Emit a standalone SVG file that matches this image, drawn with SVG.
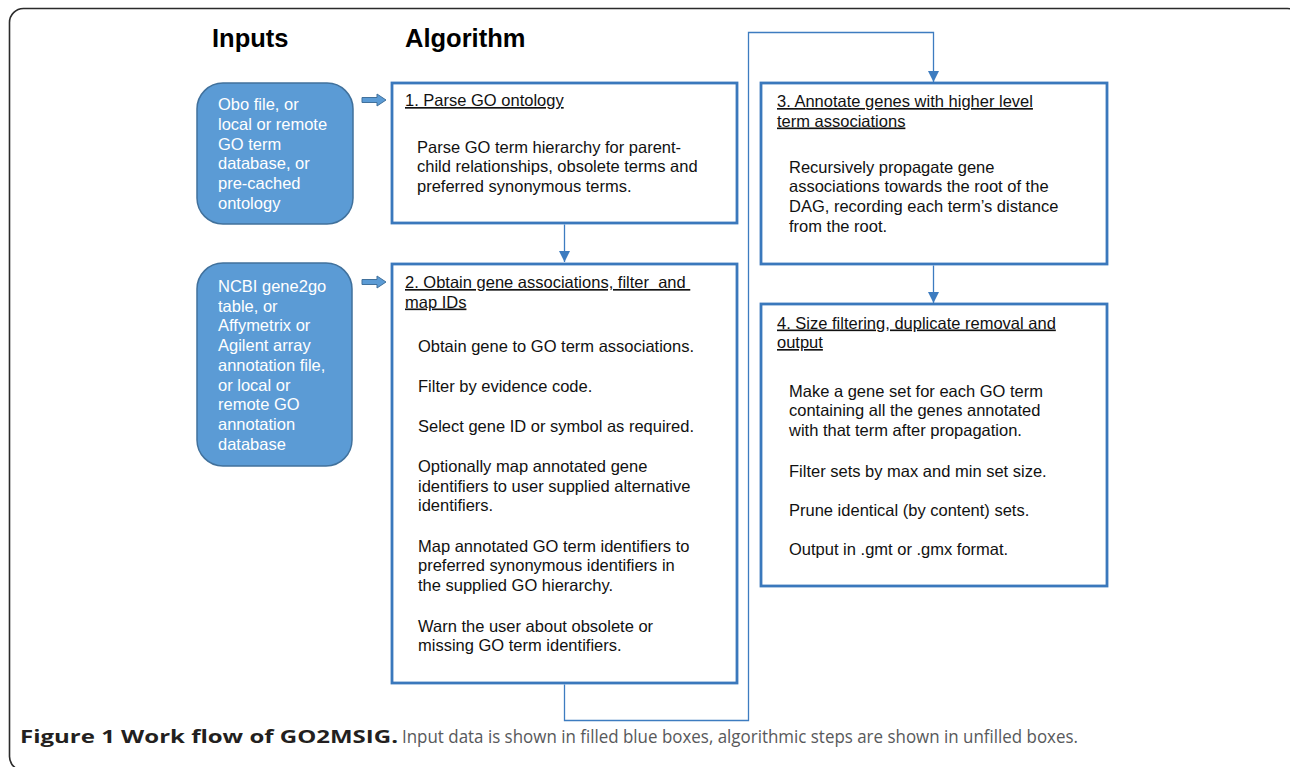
<svg xmlns="http://www.w3.org/2000/svg" width="1290" height="767" viewBox="0 0 1290 767">
<defs>
<style>
.frame{fill:none;stroke:#2b2b2b;stroke-width:1.6}
.input{fill:#5b9bd5;stroke:#41719c;stroke-width:1.5}
.itext{font-family:"Liberation Sans",Arial,sans-serif;font-size:16.5px;fill:#ffffff}
.step{fill:#ffffff;stroke:#3a78bc;stroke-width:2.8}
.title{font-family:"Liberation Sans",Arial,sans-serif;font-size:16.5px;fill:#111111;text-decoration:underline}
.body{font-family:"Liberation Sans",Arial,sans-serif;font-size:16.5px;fill:#111111}
.head{font-family:"Liberation Sans",Arial,sans-serif;font-size:25.5px;font-weight:bold;fill:#000000}
.conn{fill:none;stroke:#3d7cc0;stroke-width:1.3}
.blk{fill:#5b9bd5;stroke:#41719c;stroke-width:1}
.cap{font-family:"Open Sans","Noto Sans",sans-serif;font-size:18px}
</style>
<marker id="ah" viewBox="0 0 10 10" refX="10" refY="5" markerWidth="11" markerHeight="11" markerUnits="userSpaceOnUse" orient="auto">
<path d="M0,0 L10,5 L0,10 z" fill="#3d7cc0"/>
</marker>
</defs>

<rect class="frame" x="9.5" y="8.5" width="1292" height="762" rx="14"/>

<text class="head" x="212" y="47">Inputs</text>
<text class="head" x="405" y="47">Algorithm</text>

<g id="input1">
<rect class="input" x="197" y="83" width="156" height="141" rx="26"/>
<text class="itext" x="218" y="110">Obo file, or</text>
<text class="itext" x="218" y="129.8">local or remote</text>
<text class="itext" x="218" y="149.6">GO term</text>
<text class="itext" x="218" y="169.4">database, or</text>
<text class="itext" x="218" y="189.2">pre-cached</text>
<text class="itext" x="218" y="209">ontology</text>
</g>

<g id="input2">
<rect class="input" x="197" y="263" width="155" height="203" rx="26"/>
<text class="itext" x="218" y="292">NCBI gene2go</text>
<text class="itext" x="218" y="311.7">table, or</text>
<text class="itext" x="218" y="331.4">Affymetrix or</text>
<text class="itext" x="218" y="351.1">Agilent array</text>
<text class="itext" x="218" y="370.8">annotation file,</text>
<text class="itext" x="218" y="390.5">or local or</text>
<text class="itext" x="218" y="410.2">remote GO</text>
<text class="itext" x="218" y="429.9">annotation</text>
<text class="itext" x="218" y="449.6">database</text>
</g>

<g id="step1">
<rect class="step" x="392" y="83" width="345" height="140"/>
<text class="title" x="405" y="106">1. Parse GO ontology</text>
<text class="body" x="417" y="152.5">Parse GO term hierarchy for parent-</text>
<text class="body" x="417" y="172">child relationships, obsolete terms and</text>
<text class="body" x="417" y="191.5">preferred synonymous terms.</text>
</g>

<g id="step2">
<rect class="step" x="392" y="264" width="345" height="419"/>
<text class="title" x="405" y="288" xml:space="preserve">2. Obtain gene associations, filter  and </text>
<text class="title" x="405" y="307.5">map IDs</text>
<text class="body" x="418" y="352">Obtain gene to GO term associations.</text>
<text class="body" x="418" y="392">Filter by evidence code.</text>
<text class="body" x="418" y="432">Select gene ID or symbol as required.</text>
<text class="body" x="418" y="472">Optionally map annotated gene</text>
<text class="body" x="418" y="491.7">identifiers to user supplied alternative</text>
<text class="body" x="418" y="511.4">identifiers.</text>
<text class="body" x="418" y="551.5">Map annotated GO term identifiers to</text>
<text class="body" x="418" y="571.2">preferred synonymous identifiers in</text>
<text class="body" x="418" y="590.9">the supplied GO hierarchy.</text>
<text class="body" x="418" y="631.5">Warn the user about obsolete or</text>
<text class="body" x="418" y="651.2">missing GO term identifiers.</text>
</g>

<g id="step3">
<rect class="step" x="761" y="83" width="346" height="181"/>
<text class="title" x="777" y="107">3. Annotate genes with higher level</text>
<text class="title" x="777" y="126.5">term associations</text>
<text class="body" x="789" y="172.5">Recursively propagate gene</text>
<text class="body" x="789" y="192.2">associations towards the root of the</text>
<text class="body" x="789" y="211.9">DAG, recording each term’s distance</text>
<text class="body" x="789" y="231.6">from the root.</text>
</g>

<g id="step4">
<rect class="step" x="761" y="304" width="346" height="282"/>
<text class="title" x="777" y="328.5">4. Size filtering, duplicate removal and</text>
<text class="title" x="777" y="348">output</text>
<text class="body" x="789" y="396.7">Make a gene set for each GO term</text>
<text class="body" x="789" y="416.4">containing all the genes annotated</text>
<text class="body" x="789" y="436.1">with that term after propagation.</text>
<text class="body" x="789" y="476.5">Filter sets by max and min set size.</text>
<text class="body" x="789" y="515.8">Prune identical (by content) sets.</text>
<text class="body" x="789" y="555">Output in .gmt or .gmx format.</text>
</g>

<g id="connectors">
<path class="blk" d="M362,97.5 H377 V94 L386,100 L377,106 V102.5 H362 Z"/>
<path class="blk" d="M362,279.5 H377 V276 L386,282 L377,288 V284.5 H362 Z"/>
<path class="conn" d="M564.5,224.5 V262" marker-end="url(#ah)"/>
<path class="conn" d="M564.5,684.5 V720.5 H748.5 V32.5 H933.5 V82" marker-end="url(#ah)"/>
<path class="conn" d="M933.5,265.5 V303" marker-end="url(#ah)"/>
</g>

<text class="cap" x="20" y="743"><tspan font-weight="bold" fill="#231f20" textLength="378" lengthAdjust="spacingAndGlyphs">Figure 1 Work flow of GO2MSIG.</tspan></text>
<text class="cap" x="402" y="743" fill="#58595b" textLength="676" lengthAdjust="spacingAndGlyphs">Input data is shown in filled blue boxes, algorithmic steps are shown in unfilled boxes.</text>
</svg>
